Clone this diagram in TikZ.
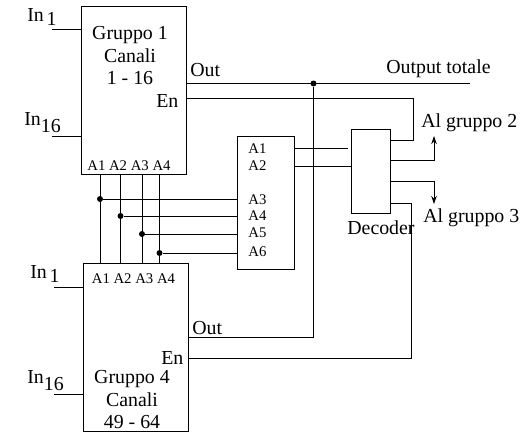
\documentclass[tikz,border=0pt]{standalone}
\usepackage{fontspec}
\setmainfont{Liberation Serif}
\usetikzlibrary{arrows.meta, positioning, calc}
\newcommand{\insub}[3]{In\hspace{#2}\raisebox{#3}{#1}}

\begin{document}
\begin{tikzpicture}[
    x=0.02cm, y=-0.02cm,
    blocknode/.style={draw, line width=0.5pt, rectangle, inner sep=0pt},
    bigtext/.style={font=\fontsize{11.3}{12.8}\selectfont, inner sep=0pt},
    smalltext/.style={font=\fontsize{8.4}{10}\selectfont, inner sep=0pt, anchor=base west},
    lab/.style={bigtext, anchor=base west},
    wire/.style={line width=0.5pt},
    arr/.style={wire, -{Stealth[length=1.6mm, width=1.1mm]}},
    jdot/.style={circle, fill, inner sep=0pt, minimum size=3.4pt},
]
    \useasboundingbox (0,0) rectangle (527,433);

    \node[blocknode, minimum width=2.1cm, minimum height=3.36cm] (grp1) at (133.5,90) {};
    \node[blocknode, minimum width=2.1cm, minimum height=3.36cm] (grp4) at (135.5,347) {};
    \node[blocknode, minimum width=1.14cm, minimum height=2.66cm] (sel) at (265.5,202.5) {};
    \node[blocknode, minimum width=0.78cm, minimum height=1.68cm] (dec) at (370.5,171) {};

    \node[bigtext, align=center] (txt1) at (130,56) {Gruppo 1\\Canali\\1 - 16};
    \node[bigtext, align=center] (txt4) at (132,400) {Gruppo 4\\Canali\\49 - 64};

    % ingressi
    \node[lab] (ina1) at (27,21) {\insub{1}{1.5pt}{-2.3pt}};
    \node[lab] (inb1) at (24,125) {\insub{16}{0pt}{-4.5pt}};
    \node[lab] (ina4) at (30,278) {\insub{1}{1.5pt}{-2.3pt}};
    \node[lab] (inb4) at (27,383) {\insub{16}{0pt}{-4.5pt}};
    \coordinate (pa1) at (52,29);
    \coordinate (pb1) at (52,136);
    \coordinate (pa4) at (54,287);
    \coordinate (pb4) at (54,394);
    \draw[wire] (pa1) -- (pa1 -| grp1.west);
    \draw[wire] (pb1) -- (pb1 -| grp1.west);
    \draw[wire] (pa4) -- (pa4 -| grp4.west);
    \draw[wire] (pb4) -- (pb4 -| grp4.west);

    \node[lab] (out1) at (190,76) {Out};
    \node[lab] (en1) at (156,107) {En};
    \node[lab] (out4) at (192,334) {Out};
    \node[lab] (en4) at (161,364) {En};
    \node[smalltext] (adr1) at (87,170) {A1 A2 A3 A4};
    \node[smalltext] (adr4) at (91.5,283) {A1 A2 A3 A4};

    \node[smalltext] (s1) at (248,153) {A1};
    \node[smalltext] (s2) at (248,170) {A2};
    \node[smalltext] (s3) at (248,204) {A3};
    \node[smalltext] (s4) at (248,220) {A4};
    \node[smalltext] (s5) at (248,237) {A5};
    \node[smalltext] (s6) at (248,256) {A6};

    \node[lab] (dectxt) at (347,234) {Decoder};
    \node[lab] (total) at (386,73) {Output totale};
    \node[lab] (al2) at (421,127) {Al gruppo 2};
    \node[lab] (al3) at (423,222) {Al gruppo 3};

    % indirizzi
    \node[jdot] (d1) at (100,199) {};
    \node[jdot] (d2) at (120.5,216) {};
    \node[jdot] (d3) at (142,234) {};
    \node[jdot] (d4) at (159.5,253) {};
    \foreach \n in {d1,d2,d3,d4} {
        \draw[wire] (\n |- grp1.south) -- (\n |- grp4.north);
        \draw[wire] (\n) -- (\n -| sel.west);
    }

    % uscite
    \coordinate (totend) at (470,83.5);
    \node[jdot] (dout) at (313.5,83.5) {};
    \draw[wire] (totend -| grp1.east) -- (totend);
    \coordinate (o4) at (0,337);
    \draw[wire] (o4 -| grp4.east) -- (o4 -| dout) -- (dout);

    \coordinate (en1y) at (413,98.5);
    \coordinate (dq1) at (0,140);
    \draw[wire] (en1y -| grp1.east) -- (en1y) -- (en1y |- dq1) -- (dq1 -| dec.east);
    \coordinate (en4y) at (411,358.5);
    \coordinate (dq4) at (0,203);
    \draw[wire] (en4y -| grp4.east) -- (en4y) -- (en4y |- dq4) -- (dq4 -| dec.east);

    \coordinate (tip2) at (434,136);
    \coordinate (dq2) at (0,160);
    \draw[arr] (dq2 -| dec.east) -- (dq2 -| tip2) -- (tip2);
    \coordinate (tip3) at (434,204);
    \coordinate (dq3) at (0,181);
    \draw[arr] (dq3 -| dec.east) -- (dq3 -| tip3) -- (tip3);

    \coordinate (da1) at (348,148);
    \coordinate (da2) at (0,166);
    \draw[wire] (da1 -| sel.east) -- (da1);
    \draw[wire] (da2 -| sel.east) -- (da2 -| dec.west);
\end{tikzpicture}
\end{document}
